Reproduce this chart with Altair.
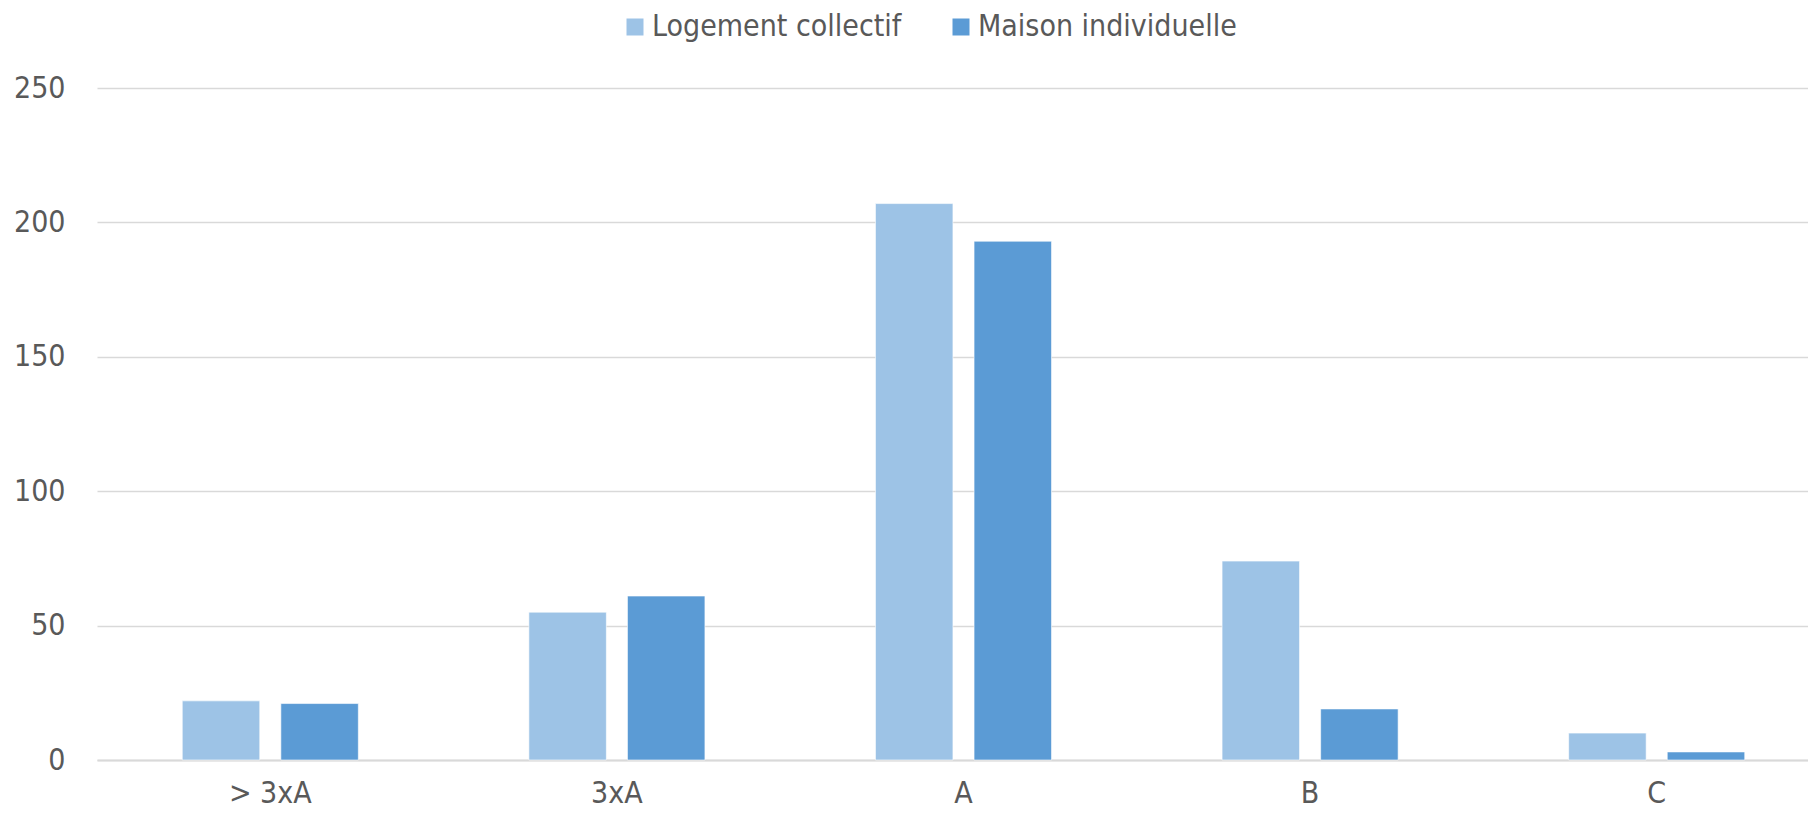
import altair as alt
import pandas as pd

categories = ["> 3xA", "3xA", "A", "B", "C"]
series = ["Logement collectif", "Maison individuelle"]
collectif = [22, 55, 207, 74, 10]
maison = [21, 61, 193, 19, 3]
colors = ["#9DC3E6", "#5B9BD5"]

rows = []
for c, v in zip(categories, collectif):
    rows.append({"cat": c, "serie": series[0], "val": v})
for c, v in zip(categories, maison):
    rows.append({"cat": c, "serie": series[1], "val": v})
df = pd.DataFrame(rows)

FONT = "DejaVu Sans Condensed"
TXT = "#595959"

chart = alt.Chart(df).mark_bar(stroke="#FFFFFF", strokeWidth=1, strokeOpacity=0.6).encode(
    x=alt.X("cat:N", sort=categories,
            scale=alt.Scale(paddingInner=0.492, paddingOuter=0.246, range=[0, 1733]),
            axis=alt.Axis(title=None, labelAngle=0, ticks=False, domain=True,
                          domainColor="#D9D9D9", domainWidth=2,
                          labelPadding=18, labelFontSize=30, labelColor=TXT, labelFont=FONT)),
    xOffset=alt.XOffset("serie:N", sort=series,
                        scale=alt.Scale(paddingInner=0.214, paddingOuter=0)),
    y=alt.Y("val:Q", scale=alt.Scale(domain=[0, 250]),
            axis=alt.Axis(title=None, values=[0, 50, 100, 150, 200, 250], ticks=False, domain=False,
                          grid=True, gridColor="#D9D9D9", gridWidth=1.5,
                          labelPadding=32, labelFontSize=30, labelColor=TXT, labelFont=FONT)),
    color=alt.Color("serie:N", sort=series,
                    scale=alt.Scale(domain=series, range=colors),
                    legend=alt.Legend(title=None, orient="none", direction="horizontal",
                                      legendX=523, legendY=-76, padding=0,
                                      symbolType="square", symbolSize=289, symbolStrokeWidth=0,
                                      labelFontSize=30, labelColor=TXT, labelFont=FONT,
                                      labelLimit=0, labelOffset=2, columnPadding=44)),
).properties(
    width=1711, height=672,
    background="#FFFFFF",
    autosize=alt.AutoSizeParams(type="none"),
    padding={"left": 89, "top": 80, "right": 0, "bottom": 48},
).configure_view(strokeWidth=0, stroke="transparent")

chart.save("out.html", embed_options={"renderer": "svg", "actions": False})
